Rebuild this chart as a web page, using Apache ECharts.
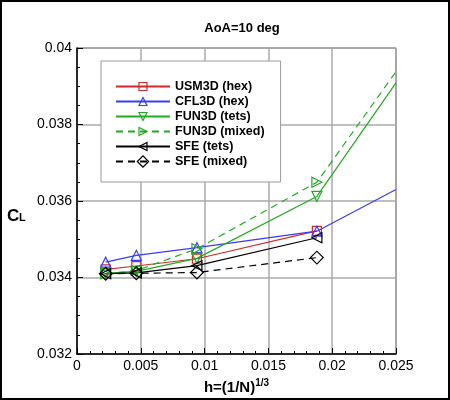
<!DOCTYPE html>
<html>
<head>
<meta charset="utf-8">
<script src="https://cdn.jsdelivr.net/npm/echarts@6/dist/echarts.min.js"></script>
<style>
  html, body { margin: 0; padding: 0; background: #fff; }
  #chart_container { width: 450px; height: 400px; }
</style>
</head>
<body>
<div id="chart_container"></div>
<script>
// grid spacing h for the four meshes
const hx = [0.00225, 0.00465, 0.0094, 0.0188];
const xEnd = 0.025;

const usm3dHex = [0.03421, 0.03430, 0.03449, 0.03522];
const cfl3dHex = [0.03440, 0.03458, 0.03478, 0.03521];
const fun3dTets = [0.03411, 0.03416, 0.03450, 0.03612];
const fun3dMixed = [0.03410, 0.03418, 0.03475, 0.03649];
const sfeTets = [0.03410, 0.03412, 0.03431, 0.03504];
const sfeMixed = [0.03410, 0.03411, 0.03413, 0.03452];

// line continues to the right edge without a marker
const cfl3dEnd = 0.03630;
const fun3dTetsEnd = 0.03909;
const fun3dMixedEnd = 0.03938;

const names = ['USM3D (hex)', 'CFL3D (hex)', 'FUN3D (tets)', 'FUN3D (mixed)', 'SFE (tets)', 'SFE (mixed)'];
const colors = ['#d42a2a', '#3b3bf5', '#22aa22', '#22aa22', '#000000', '#000000'];

function to_points(ys, endY){
    let pts = hx.map((x, i) => [x, ys[i]]);
    if (endY !== undefined){
        pts.push({ value: [xEnd, endY], symbol: 'none' });
    }
    return pts
}

function make_series(idx, symbol, rotate, dashed, ys, endY, size){
    let color = colors[idx];
    return {
        name: names[idx],
        type: 'line',
        data: to_points(ys, endY),
        symbol: symbol,
        symbolRotate: rotate,
        symbolSize: size || 10,
        showAllSymbol: true,
        clip: true,
        lineStyle: { color: color, width: 1.2, type: dashed ? [7, 5] : 'solid' },
        itemStyle: { color: 'rgba(0,0,0,0)', borderColor: color, borderWidth: 1.2 },
        emphasis: { disabled: true },
        z: 3
    }
}

document.addEventListener("DOMContentLoaded", function () {
    let chart = echarts.init(document.getElementById('chart_container'));

    const font = 'Liberation Sans, Arial, sans-serif';

    let legend_data = names.map((n, i) => ({
        name: n,
        itemStyle: { color: 'rgba(0,0,0,0)', borderColor: colors[i], borderWidth: 1.2 }
    }));

    let option = {
        animation: false,
        backgroundColor: '#fff',
        title: {
            text: 'AoA=10 deg',
            left: 237, top: 17,
            textAlign: 'center',
            textStyle: { fontFamily: font, fontSize: 13, fontWeight: 'bold', color: '#000' }
        },
        graphic: [
            { type: 'rect', shape: { x: 1, y: 1, width: 448, height: 398 },
              style: { fill: 'none', stroke: '#000', lineWidth: 2 }, silent: true },
            // y axis title C_L
            { type: 'text', x: 7, y: 208, silent: true,
              style: { text: 'C', font: 'bold 17px ' + font, fill: '#000',
                       align: 'left', verticalAlign: 'alphabetic' } },
            { type: 'text', x: 19, y: 212, silent: true,
              style: { text: 'L', font: 'bold 11px ' + font, fill: '#000',
                       align: 'left', verticalAlign: 'alphabetic' } }
        ],
        legend: {
            orient: 'vertical',
            left: 101, top: 61,
            padding: [19, 16, 14, 14],
            itemWidth: 54, itemHeight: 10,
            itemGap: 2,
            backgroundColor: '#fff',
            borderColor: '#999', borderWidth: 1,
            textStyle: { fontFamily: font, fontSize: 12.5, fontWeight: 'bold', color: '#000', lineHeight: 12 },
            data: legend_data
        },
        grid: { left: 77, right: 54, top: 48, bottom: 46, show: true, borderColor: '#444', borderWidth: 1 },
        xAxis: {
            type: 'value', min: 0, max: 0.025, interval: 0.005,
            name: '{b|h=(1/N)}{s|1/3}',
            nameLocation: 'middle', nameGap: 24,
            nameTextStyle: {
                rich: {
                    b: { fontFamily: font, fontSize: 15, fontWeight: 'bold', color: '#000' },
                    s: { fontFamily: font, fontSize: 10, fontWeight: 'bold', color: '#000', padding: [0, 0, 9, 0] }
                }
            },
            axisLine: { onZero: false, lineStyle: { color: '#000', width: 1.5 } },
            axisTick: { inside: true, length: 6, lineStyle: { color: '#000' } },
            minorTick: { show: true, splitNumber: 5, length: 3, lineStyle: { color: '#000' } },
            axisLabel: { fontFamily: font, fontSize: 14, color: '#000', margin: 5 },
            splitLine: { show: true, lineStyle: { color: '#aaa', width: 1.5 } }
        },
        yAxis: {
            type: 'value', min: 0.032, max: 0.04, interval: 0.002,
            axisLine: { onZero: false, lineStyle: { color: '#000', width: 1.5 } },
            axisTick: { inside: true, length: 6, lineStyle: { color: '#000' } },
            minorTick: { show: true, splitNumber: 4, length: 3, lineStyle: { color: '#000' } },
            axisLabel: { fontFamily: font, fontSize: 14, color: '#000', margin: 5 },
            splitLine: { show: true, lineStyle: { color: '#aaa', width: 1.5 } }
        },
        series: [
            make_series(0, 'rect', 0, false, usm3dHex, undefined, 9),
            make_series(1, 'triangle', 0, false, cfl3dHex, cfl3dEnd),
            make_series(2, 'triangle', 180, false, fun3dTets, fun3dTetsEnd),
            make_series(3, 'triangle', -90, true, fun3dMixed, fun3dMixedEnd),
            make_series(4, 'triangle', 90, false, sfeTets),
            make_series(5, 'rect', 45, true, sfeMixed, undefined, 9)
        ]
    };

    if (chart){
        chart.setOption(option);
    }else{
        console.error("Echart instance failed to init")
    }
});
</script>
</body>
</html>
